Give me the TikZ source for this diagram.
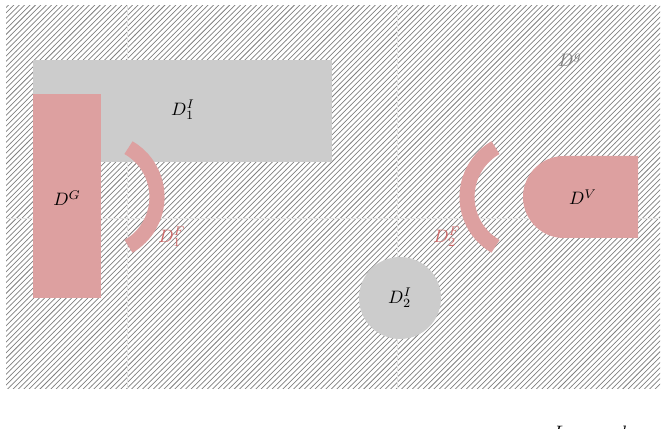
\documentclass[tikz,border=0pt]{standalone}
\usepackage{amsmath,amssymb}
\usetikzlibrary{patterns}
\definecolor{rosa}{RGB}{221,160,160}
\definecolor{rosatext}{RGB}{205,105,105}
\definecolor{grau}{RGB}{204,204,204}
\tikzset{
  region/.style={fill=grau,draw=none},
  flow/.style={fill=rosa,draw=none},
  band/.style={draw=rosa,line width=8.4pt},
  lbl/.style={inner sep=0pt},
}
\begin{document}
\begin{tikzpicture}[x=0.556pt,y=-0.556pt]
\useasboundingbox (0,0) rectangle (666,429);
% domain
\fill[pattern=north east lines,pattern color=gray] (6,6) rectangle (660,388);
\draw[gray!20,line width=0.3pt] (127,6) -- (127,388) (397,6) -- (397,388) (6,218) -- (660,218);
% inner regions
\fill[region] (33,60) rectangle (332,162);
\fill[region] (400,298) circle (41);
\fill[flow] (33,94) rectangle (101,298);
\fill[flow] (638,156) -- (564,156) arc (270:90:41) -- (638,238) -- cycle;
% free boundaries
\draw[band] (100,197) ++(-60:57) arc (-60:60:57);
\draw[band] (524,197) ++(120:57) arc (120:240:57);
% labels
\node[lbl] (dg) at (67,198) {$D^G$};
\node[lbl] (di1) at (183,110) {$D^I_1$};
\node[lbl] (di2) at (400,298) {$D^I_2$};
\node[lbl] (dv) at (583,197) {$D^V$};
\node[lbl,text=gray] (dgg) at (570,60) {$D^g$};
\node[lbl,text=rosatext] (df1) at (172,237) {$D^F_1$};
\node[lbl,text=rosatext] (df2) at (447,237) {$D^F_2$};
\node[lbl,anchor=north west] (ll) at (553,426) {$L$};
\node[lbl,anchor=north west] (ls) at (621,426) {$l$};
\end{tikzpicture}
\end{document}
